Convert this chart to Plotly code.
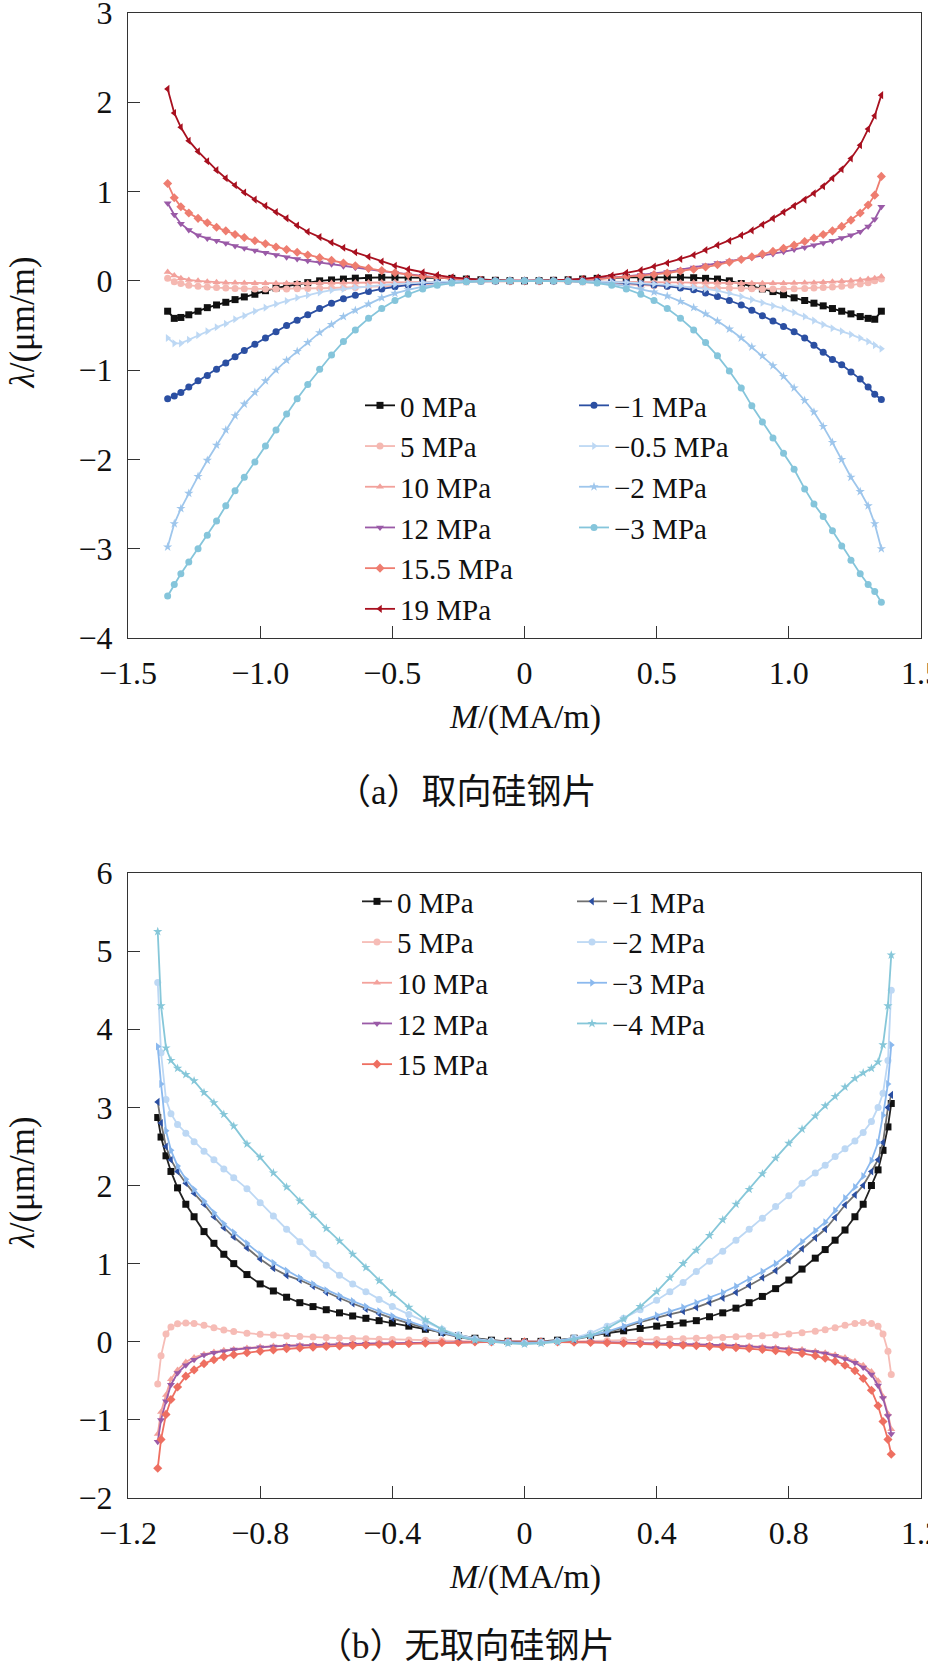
import plotly.graph_objects as go

# ---------------- (a) grain-oriented silicon steel ----------------
M_a = [-1.35, -1.325, -1.30, -1.27, -1.235, -1.20, -1.165, -1.13, -1.095, -1.06, -1.02, -0.98, -0.94, -0.90,
       -0.86, -0.82, -0.775, -0.73, -0.685, -0.64, -0.59, -0.54, -0.49, -0.44, -0.385, -0.33, -0.275, -0.22,
       -0.165, -0.11, -0.055, 0, 0.055, 0.11, 0.165, 0.22, 0.275, 0.33, 0.385, 0.44, 0.49, 0.54, 0.59, 0.64,
       0.685, 0.73, 0.775, 0.82, 0.86, 0.90, 0.94, 0.98, 1.02, 1.06, 1.095, 1.13, 1.165, 1.20, 1.235, 1.27,
       1.30, 1.325, 1.35]

a_0 = [-0.34, -0.42, -0.41, -0.38, -0.34, -0.30, -0.27, -0.24, -0.21, -0.18, -0.15, -0.11, -0.08, -0.06, -0.04,
       -0.02, 0.0, 0.01, 0.02, 0.03, 0.035, 0.04, 0.04, 0.04, 0.038, 0.034, 0.028, 0.02, 0.012, 0.006, 0.002,
       0,
       0.002, 0.006, 0.012, 0.02, 0.028, 0.034, 0.038, 0.04, 0.042, 0.042, 0.04, 0.035, 0.028, 0.02, 0.0,
       -0.03, -0.06, -0.09, -0.12, -0.155, -0.19, -0.22, -0.25, -0.28, -0.31, -0.34, -0.37, -0.40, -0.42,
       -0.43, -0.34]
a_5 = [0.03, -0.01, -0.03, -0.05, -0.06, -0.07, -0.075, -0.08, -0.085, -0.088, -0.09, -0.09, -0.09, -0.09,
       -0.088, -0.086, -0.083, -0.08, -0.077, -0.073, -0.068, -0.062, -0.055, -0.047, -0.038, -0.029, -0.02,
       -0.013, -0.007, -0.003, -0.001,
       0,
       -0.001, -0.003, -0.007, -0.013, -0.02, -0.029, -0.038, -0.047, -0.055, -0.062, -0.068, -0.073, -0.077,
       -0.08, -0.083, -0.086, -0.088, -0.09, -0.09, -0.09, -0.088, -0.085, -0.08, -0.075, -0.07, -0.06, -0.05,
       -0.035, -0.02, 0.0, 0.02]
a_10 = [0.10, 0.06, 0.03, 0.01, 0.0, -0.01, -0.015, -0.02, -0.022, -0.025, -0.027, -0.028, -0.028, -0.028,
        -0.027, -0.026, -0.025, -0.023, -0.021, -0.019, -0.017, -0.015, -0.013, -0.011, -0.009, -0.007, -0.005,
        -0.003, -0.002, -0.001, 0.0,
        0,
        0.0, -0.001, -0.002, -0.003, -0.005, -0.007, -0.009, -0.011, -0.013, -0.015, -0.017, -0.019, -0.021,
        -0.023, -0.025, -0.026, -0.027, -0.028, -0.028, -0.027, -0.025, -0.022, -0.02, -0.015, -0.01, -0.005,
        0.0, 0.01, 0.02, 0.03, 0.05]
a_12 = [0.87, 0.74, 0.64, 0.57, 0.51, 0.475, 0.45, 0.42, 0.39, 0.365, 0.34, 0.315, 0.29, 0.265, 0.245, 0.225,
        0.205, 0.185, 0.165, 0.148, 0.13, 0.11, 0.09, 0.072, 0.055, 0.04, 0.027, 0.016, 0.008, 0.003, 0.001,
        0,
        0.001, 0.003, 0.008, 0.015, 0.024, 0.036, 0.05, 0.065, 0.08, 0.10, 0.125, 0.15, 0.175, 0.20, 0.22, 0.24,
        0.26, 0.28, 0.30, 0.325, 0.35, 0.375, 0.40, 0.425, 0.45, 0.48, 0.51, 0.55, 0.61, 0.69, 0.83]
a_155 = [1.09, 0.93, 0.83, 0.76, 0.70, 0.65, 0.60, 0.56, 0.52, 0.485, 0.45, 0.415, 0.38, 0.35, 0.32, 0.29, 0.26,
         0.23, 0.20, 0.17, 0.14, 0.115, 0.09, 0.07, 0.05, 0.035, 0.022, 0.012, 0.006, 0.002, 0.0,
         0,
         0.0, 0.002, 0.006, 0.012, 0.02, 0.032, 0.045, 0.058, 0.072, 0.088, 0.11, 0.13, 0.155, 0.18, 0.21, 0.24,
         0.27, 0.30, 0.33, 0.365, 0.40, 0.44, 0.48, 0.52, 0.56, 0.61, 0.68, 0.76, 0.85, 0.96, 1.17]
a_19 = [2.15, 1.88, 1.72, 1.57, 1.45, 1.34, 1.24, 1.15, 1.07, 0.99, 0.91, 0.84, 0.77, 0.70, 0.62, 0.55, 0.49,
        0.43, 0.37, 0.32, 0.27, 0.215, 0.17, 0.13, 0.095, 0.065, 0.04, 0.022, 0.01, 0.004, 0.001,
        0,
        0.001, 0.004, 0.01, 0.022, 0.038, 0.06, 0.09, 0.12, 0.16, 0.20, 0.245, 0.29, 0.345, 0.40, 0.45, 0.51,
        0.565, 0.63, 0.70, 0.77, 0.84, 0.91, 0.98, 1.06, 1.15, 1.25, 1.37, 1.52, 1.70, 1.85, 2.08]
a_m1 = [-1.32, -1.29, -1.25, -1.19, -1.12, -1.06, -0.99, -0.92, -0.85, -0.78, -0.71, -0.64, -0.57, -0.50, -0.44,
        -0.38, -0.31, -0.25, -0.20, -0.16, -0.12, -0.09, -0.065, -0.045, -0.028, -0.017, -0.009, -0.004, -0.002,
        -0.001, 0.0,
        0,
        0.0, -0.001, -0.002, -0.004, -0.008, -0.014, -0.022, -0.032, -0.045, -0.06, -0.08, -0.10, -0.135, -0.175,
        -0.22, -0.27, -0.33, -0.39, -0.45, -0.51, -0.57, -0.64, -0.72, -0.80, -0.88, -0.94, -1.02, -1.10, -1.19,
        -1.27, -1.33]
a_m05 = [-0.64, -0.70, -0.70, -0.66, -0.61, -0.565, -0.52, -0.48, -0.43, -0.39, -0.34, -0.30, -0.26, -0.225,
         -0.19, -0.16, -0.13, -0.105, -0.09, -0.075, -0.06, -0.048, -0.037, -0.027, -0.019, -0.012, -0.007,
         -0.004, -0.002, -0.001, 0.0,
         0,
         0.0, -0.001, -0.002, -0.004, -0.007, -0.011, -0.016, -0.025, -0.035, -0.045, -0.058, -0.073, -0.09,
         -0.11, -0.14, -0.175, -0.21, -0.245, -0.28, -0.31, -0.355, -0.40, -0.445, -0.49, -0.53, -0.565, -0.60,
         -0.64, -0.68, -0.72, -0.76]
a_m2 = [-2.98, -2.72, -2.55, -2.38, -2.19, -2.01, -1.84, -1.67, -1.51, -1.38, -1.25, -1.12, -1.00, -0.89, -0.79,
        -0.69, -0.58, -0.49, -0.40, -0.33, -0.26, -0.19, -0.14, -0.10, -0.065, -0.04, -0.022, -0.011, -0.005,
        -0.002, 0.0,
        0,
        0.0, -0.001, -0.004, -0.01, -0.02, -0.036, -0.06, -0.09, -0.125, -0.17, -0.23, -0.30, -0.37, -0.45,
        -0.54, -0.64, -0.74, -0.84, -0.95, -1.07, -1.20, -1.34, -1.47, -1.63, -1.81, -2.00, -2.20, -2.36, -2.52,
        -2.72, -3.0]
a_m3 = [-3.53, -3.40, -3.28, -3.15, -3.00, -2.85, -2.69, -2.52, -2.35, -2.20, -2.03, -1.85, -1.67, -1.49, -1.32,
        -1.16, -0.99, -0.83, -0.68, -0.55, -0.42, -0.31, -0.22, -0.15, -0.09, -0.05, -0.025, -0.011, -0.004,
        -0.001, 0.0,
        0,
        0.0, -0.001, -0.004, -0.011, -0.025, -0.05, -0.09, -0.15, -0.22, -0.31, -0.42, -0.55, -0.69, -0.84,
        -1.01, -1.20, -1.40, -1.58, -1.76, -1.93, -2.11, -2.33, -2.50, -2.64, -2.80, -2.97, -3.13, -3.28, -3.40,
        -3.48, -3.60]

# ---------------- (b) non-oriented silicon steel ----------------
M_b = [-1.11, -1.10, -1.085, -1.07, -1.05, -1.025, -1.00, -0.97, -0.94, -0.91, -0.88, -0.84, -0.80, -0.76, -0.72,
       -0.68, -0.64, -0.60, -0.56, -0.52, -0.48, -0.44, -0.40, -0.35, -0.30, -0.25, -0.20, -0.15, -0.10, -0.05,
       0, 0.05, 0.10, 0.15, 0.20, 0.25, 0.30, 0.35, 0.40, 0.44, 0.48, 0.52, 0.56, 0.60, 0.64, 0.68, 0.72, 0.76,
       0.80, 0.84, 0.88, 0.91, 0.94, 0.97, 1.00, 1.025, 1.05, 1.07, 1.085, 1.10, 1.11]

b_0 = [2.87, 2.62, 2.38, 2.18, 1.97, 1.76, 1.60, 1.41, 1.26, 1.12, 1.00, 0.86, 0.74, 0.65, 0.57, 0.50, 0.45, 0.41,
       0.37, 0.33, 0.30, 0.27, 0.24, 0.20, 0.16, 0.12, 0.08, 0.045, 0.02, 0.005,
       0,
       0.005, 0.02, 0.045, 0.08, 0.11, 0.14, 0.17, 0.20, 0.22, 0.24, 0.27, 0.32, 0.37, 0.43, 0.50, 0.58, 0.68,
       0.79, 0.93, 1.07, 1.18, 1.30, 1.43, 1.60, 1.76, 2.00, 2.20, 2.45, 2.75, 3.05]
b_5 = [-0.54, -0.18, 0.10, 0.19, 0.23, 0.24, 0.235, 0.21, 0.18, 0.15, 0.13, 0.11, 0.095, 0.085, 0.075, 0.068,
       0.06, 0.054, 0.048, 0.043, 0.038, 0.033, 0.029, 0.024, 0.019, 0.014, 0.01, 0.006, 0.003, 0.001,
       0,
       0.001, 0.003, 0.006, 0.01, 0.014, 0.019, 0.024, 0.03, 0.035, 0.04, 0.045, 0.05, 0.056, 0.063, 0.07, 0.078,
       0.087, 0.10, 0.115, 0.135, 0.155, 0.18, 0.21, 0.235, 0.245, 0.235, 0.20, 0.10, -0.12, -0.42]
b_10 = [-1.18, -0.90, -0.68, -0.48, -0.36, -0.26, -0.20, -0.16, -0.13, -0.11, -0.095, -0.08, -0.065, -0.055,
        -0.048, -0.042, -0.037, -0.033, -0.029, -0.026, -0.023, -0.02, -0.017, -0.014, -0.011, -0.008, -0.005,
        -0.003, -0.001, 0.0,
        0,
        0.0, -0.001, -0.003, -0.006, -0.009, -0.012, -0.016, -0.02, -0.024, -0.028, -0.032, -0.037, -0.042,
        -0.048, -0.055, -0.063, -0.073, -0.085, -0.10, -0.12, -0.14, -0.165, -0.20, -0.25, -0.30, -0.38, -0.50,
        -0.70, -0.92, -1.12]
b_12 = [-1.28, -1.00, -0.76, -0.55, -0.40, -0.30, -0.23, -0.17, -0.14, -0.12, -0.10, -0.085, -0.07, -0.06,
        -0.052, -0.046, -0.04, -0.035, -0.031, -0.027, -0.024, -0.021, -0.018, -0.015, -0.012, -0.009, -0.006,
        -0.003, -0.001, 0.0,
        0,
        0.0, -0.001, -0.003, -0.006, -0.009, -0.013, -0.017, -0.021, -0.025, -0.029, -0.034, -0.039, -0.045,
        -0.052, -0.06, -0.07, -0.08, -0.095, -0.11, -0.13, -0.15, -0.18, -0.22, -0.27, -0.33, -0.42, -0.56,
        -0.72, -0.95, -1.18]
b_15 = [-1.62, -1.25, -0.93, -0.74, -0.58, -0.44, -0.36, -0.28, -0.23, -0.19, -0.165, -0.14, -0.12, -0.105,
        -0.09, -0.08, -0.07, -0.06, -0.053, -0.047, -0.041, -0.036, -0.031, -0.025, -0.019, -0.013, -0.008,
        -0.004, -0.002, 0.0,
        0,
        0.0, -0.002, -0.005, -0.009, -0.014, -0.02, -0.026, -0.033, -0.039, -0.045, -0.052, -0.059, -0.067,
        -0.076, -0.087, -0.10, -0.115, -0.13, -0.15, -0.18, -0.21, -0.25, -0.30, -0.37, -0.47, -0.62, -0.82,
        -1.02, -1.25, -1.44]
b_m1 = [3.07, 2.80, 2.50, 2.33, 2.18, 2.03, 1.90, 1.76, 1.60, 1.46, 1.34, 1.20, 1.06, 0.94, 0.85, 0.79, 0.71,
        0.63, 0.56, 0.49, 0.42, 0.36, 0.30, 0.24, 0.17, 0.11, 0.06, 0.025, 0.005, -0.005,
        -0.01,
        -0.005, 0.005, 0.03, 0.07, 0.12, 0.18, 0.25, 0.31, 0.35, 0.39, 0.44, 0.50, 0.56, 0.63, 0.72, 0.82, 0.91,
        1.04, 1.19, 1.33, 1.44, 1.59, 1.75, 1.88, 2.00, 2.18, 2.33, 2.55, 3.00, 3.16]
b_m2 = [4.60, 3.70, 3.10, 2.92, 2.78, 2.67, 2.56, 2.44, 2.33, 2.21, 2.10, 1.96, 1.78, 1.61, 1.44, 1.28, 1.13,
        0.98, 0.85, 0.74, 0.64, 0.54, 0.45, 0.35, 0.25, 0.16, 0.09, 0.04, 0.01, -0.01,
        -0.02,
        -0.01, 0.01, 0.05, 0.11, 0.20, 0.30, 0.41, 0.53, 0.64, 0.76, 0.90, 1.03, 1.16, 1.30, 1.44, 1.58, 1.73,
        1.87, 2.03, 2.16, 2.26, 2.37, 2.47, 2.57, 2.68, 2.82, 3.00, 3.18, 3.60, 4.50]
b_m3 = [3.78, 3.30, 2.70, 2.45, 2.25, 2.08, 1.95, 1.80, 1.65, 1.51, 1.40, 1.26, 1.12, 1.01, 0.91, 0.82, 0.74,
        0.66, 0.59, 0.52, 0.45, 0.39, 0.33, 0.26, 0.19, 0.12, 0.07, 0.03, 0.005, -0.01,
        -0.02,
        -0.01, 0.01, 0.04, 0.08, 0.13, 0.20, 0.27, 0.34, 0.39, 0.44, 0.50, 0.56, 0.63, 0.71, 0.80, 0.90, 1.00,
        1.13, 1.28, 1.42, 1.53, 1.68, 1.84, 1.98, 2.12, 2.32, 2.55, 2.90, 3.30, 3.80]
b_m4 = [5.25, 4.30, 3.76, 3.60, 3.50, 3.42, 3.34, 3.19, 3.06, 2.91, 2.76, 2.53, 2.36, 2.16, 1.98, 1.80, 1.62,
        1.45, 1.29, 1.12, 0.95, 0.78, 0.62, 0.44, 0.28, 0.16, 0.07, 0.02, 0.0, -0.02,
        -0.03,
        -0.02, 0.0, 0.03, 0.08, 0.17, 0.29, 0.45, 0.64, 0.82, 1.00, 1.17, 1.36, 1.56, 1.76, 1.95, 2.15, 2.35,
        2.54, 2.72, 2.89, 3.02, 3.14, 3.26, 3.37, 3.44, 3.50, 3.58, 3.80, 4.30, 4.95]

# tick labels
xt_a = [-1.5, -1.0, -0.5, 0, 0.5, 1.0, 1.5]
xt_a_txt = ["\u22121.5", "\u22121.0", "\u22120.5", "0", "0.5", "1.0", "1.5"]
yt_a = [-4, -3, -2, -1, 0, 1, 2, 3]
yt_a_txt = ["\u22124", "\u22123", "\u22122", "\u22121", "0", "1", "2", "3"]
xt_b = [-1.2, -0.8, -0.4, 0, 0.4, 0.8, 1.2]
xt_b_txt = ["\u22121.2", "\u22120.8", "\u22120.4", "0", "0.4", "0.8", "1.2"]
yt_b = [-2, -1, 0, 1, 2, 3, 4, 5, 6]
yt_b_txt = ["\u22122", "\u22121", "0", "1", "2", "3", "4", "5", "6"]

FONT = "Liberation Serif"
CJK = "Liberation Serif, Noto Sans CJK SC"
W, H = 928, 1667

fig = go.Figure()


def add(x, y, name, color, symbol, xa, ya, legend, linecolor=None, size=7, lw=1.8):
    fig.add_trace(go.Scatter(
        x=x, y=y, name=name, mode="lines+markers", xaxis=xa, yaxis=ya, legend=legend,
        line=dict(color=linecolor or color, width=lw),
        marker=dict(color=color, symbol=symbol, size=size, line=dict(width=0)),
        showlegend=True))


# panel (a)
add(M_a, a_0, "0 MPa", "#111111", "square", "x", "y", "legend", size=7)
add(M_a, a_5, "5 MPa", "#f5b8b1", "circle", "x", "y", "legend")
add(M_a, a_10, "10 MPa", "#f2a19b", "triangle-up", "x", "y", "legend")
add(M_a, a_12, "12 MPa", "#9a5aa7", "triangle-down", "x", "y", "legend")
add(M_a, a_155, "15.5 MPa", "#ee7d70", "diamond", "x", "y", "legend")
add(M_a, a_19, "19 MPa", "#a8101f", "triangle-left", "x", "y", "legend")
add(M_a, a_m1, "\u22121 MPa", "#2b4fa2", "circle", "x", "y", "legend2")
add(M_a, a_m05, "\u22120.5 MPa", "#bdd8f4", "triangle-right", "x", "y", "legend2")
add(M_a, a_m2, "\u22122 MPa", "#9ec6ec", "star", "x", "y", "legend2")
add(M_a, a_m3, "\u22123 MPa", "#85c5db", "circle", "x", "y", "legend2")

# panel (b)
add(M_b, b_0, "0 MPa", "#111111", "square", "x2", "y2", "legend3", linecolor="#222222")
add(M_b, b_5, "5 MPa", "#f6bcb6", "circle", "x2", "y2", "legend3")
add(M_b, b_10, "10 MPa", "#f3a19b", "triangle-up", "x2", "y2", "legend3")
add(M_b, b_12, "12 MPa", "#9a5aa7", "triangle-down", "x2", "y2", "legend3")
add(M_b, b_15, "15 MPa", "#ee6f61", "diamond", "x2", "y2", "legend3")
add(M_b, b_m1, "\u22121 MPa", "#2b4fa2", "triangle-left", "x2", "y2", "legend4", linecolor="#707070")
add(M_b, b_m2, "\u22122 MPa", "#bdd8f4", "circle", "x2", "y2", "legend4")
add(M_b, b_m3, "\u22123 MPa", "#8bb9ee", "triangle-right", "x2", "y2", "legend4")
add(M_b, b_m4, "\u22124 MPa", "#86c7d9", "star", "x2", "y2", "legend4")

# geometry (pixels)
PL, PR = 128, 921
A_T, A_B = 13, 638
B_T, B_B = 873, 1498


def px_x(p):
    return p / W


def px_y(p):
    return 1 - p / H


axis_common = dict(showgrid=False, zeroline=False, showline=True, linecolor="#333333", linewidth=1.3,
                   mirror=True, ticks="inside", ticklen=12, tickwidth=1.3, tickcolor="#333333",
                   automargin=False, ticklabeloverflow="allow",
                   tickfont=dict(family=FONT, size=32, color="#111111"))

legend_common = dict(xanchor="left", yanchor="top", bgcolor="rgba(0,0,0,0)", borderwidth=0,
                     font=dict(family=FONT, size=29, color="#111111"), traceorder="normal",
                     orientation="v", itemclick=False, itemdoubleclick=False)

fig.update_layout(
    template="none",
    width=W, height=H, margin=dict(l=0, r=0, t=0, b=0, pad=0, autoexpand=False),
    paper_bgcolor="white", plot_bgcolor="white",
    font=dict(family=FONT, size=32, color="#111111"),
    xaxis=dict(domain=[px_x(PL), px_x(PR)], anchor="y", range=[-1.5, 1.5],
               tickvals=xt_a, ticktext=xt_a_txt, ticklabelstandoff=6, **axis_common),
    yaxis=dict(domain=[px_y(A_B), px_y(A_T)], anchor="x", range=[-4, 3],
               tickvals=yt_a, ticktext=yt_a_txt, ticklabelstandoff=8, **axis_common),
    xaxis2=dict(domain=[px_x(PL), px_x(PR)], anchor="y2", range=[-1.2, 1.2],
                tickvals=xt_b, ticktext=xt_b_txt, ticklabelstandoff=6, **axis_common),
    yaxis2=dict(domain=[px_y(B_B), px_y(B_T)], anchor="x2", range=[-2, 6],
                tickvals=yt_b, ticktext=yt_b_txt, ticklabelstandoff=8, **axis_common),
    legend=dict(x=px_x(360), y=px_y(380), **legend_common),
    legend2=dict(x=px_x(574), y=px_y(380), **legend_common),
    legend3=dict(x=px_x(357), y=px_y(876), **legend_common),
    legend4=dict(x=px_x(572), y=px_y(876), **legend_common),
)

ann = []
for (top, bot) in [(A_T, A_B), (B_T, B_B)]:
    ann.append(dict(text="<i>\u03bb</i>/(\u03bcm/m)", textangle=-90, x=px_x(22), y=px_y((top + bot) / 2 - 3),
                    xref="paper", yref="paper", xanchor="center", yanchor="middle", showarrow=False,
                    font=dict(family=FONT, size=35, color="#111111")))
    ann.append(dict(text="<i>M</i>/(MA/m)", x=px_x((PL + PR) / 2), y=px_y(bot + 79),
                    xref="paper", yref="paper", xanchor="center", yanchor="middle", showarrow=False,
                    font=dict(family=FONT, size=34, color="#111111")))
ann.append(dict(text="\uff08a\uff09\u53d6\u5411\u7845\u94a2\u7247", x=px_x(466), y=px_y(792),
                xref="paper", yref="paper", xanchor="center", yanchor="middle", showarrow=False,
                font=dict(family=CJK, size=35, color="#111111")))
ann.append(dict(text="\uff08b\uff09\u65e0\u53d6\u5411\u7845\u94a2\u7247", x=px_x(466), y=px_y(1646),
                xref="paper", yref="paper", xanchor="center", yanchor="middle", showarrow=False,
                font=dict(family=CJK, size=35, color="#111111")))
fig.update_layout(annotations=ann)

fig.write_html("out.html")
